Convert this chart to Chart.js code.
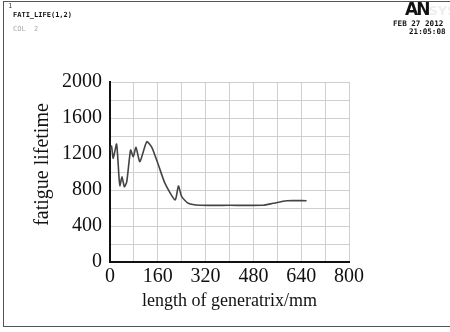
<!DOCTYPE html>
<html>
<head>
<meta charset="utf-8">
<script src="https://cdn.jsdelivr.net/npm/chart.js@4/dist/chart.umd.min.js"></script>
<style>
  body { margin: 0; background: #fff; }
  #wrap { position: relative; width: 450px; height: 332px; }
  #frame { position: absolute; left: 3px; top: 1px; width: 447px; height: 326px; border: 1.5px solid #555; border-right: none; box-sizing: border-box; }
  .hd { position: absolute; font-family: "DejaVu Sans Mono", monospace; font-size: 7px; line-height: 7px; white-space: pre; }
</style>
</head>
<body>
<div id="wrap">
  <canvas id="myChart" width="450" height="332"></canvas>
  <div id="frame"></div>
  <div class="hd" style="left:8px;top:3px;color:#444;">1</div>
  <div class="hd" style="left:13px;top:12px;font-weight:bold;color:#111;">FATI_LIFE(1,2)</div>
  <div class="hd" style="left:13px;top:26px;color:#aaa;">COL  2</div>
  <div class="hd" style="left:405px;top:1px;font-family:'DejaVu Sans';font-size:17px;line-height:17px;font-weight:bold;letter-spacing:-2px;color:#111;">AN<span style="color:#eeeeee;font-size:13px;letter-spacing:0">SYS</span></div>
  <div class="hd" style="left:393px;top:20px;font-weight:bold;font-size:7.6px;color:#111;">FEB 27 2012</div>
  <div class="hd" style="left:409px;top:28px;font-weight:bold;font-size:7.6px;color:#111;">21:05:08</div>
</div>
<script>
// length of generatrix (mm) vs fatigue lifetime
const lengths = [0, 5, 11, 22, 30, 33, 40, 48, 56, 69, 78, 87, 100, 123, 140, 162, 184, 218, 229, 240, 262, 301, 400, 513, 546, 591, 658];
const lifetimes = [1240, 1289, 1152, 1311, 948, 844, 948, 837, 890, 1244, 1170, 1274, 1115, 1337, 1274, 1078, 874, 689, 844, 726, 652, 630, 630, 630, 652, 681, 681];

const xMin = 0, xMax = 800, xStep = 80, xLabelEvery = 160;
const yMin = 0, yMax = 2000, yStep = 200, yLabelEvery = 400;

const serif = '"Liberation Serif", "Times New Roman", serif';

const points = lengths.map((x, i) => ({ x: x, y: lifetimes[i] }));

const config = {
    type: 'line',
    data: {
        datasets: [{
            data: points,
            borderColor: '#444',
            borderWidth: 1.6,
            pointRadius: 0,
            tension: 0.2,
            fill: false
        }]
    },
    options: {
        responsive: false,
        animation: false,
        layout: {
            padding: { left: 0, top: 82, right: 101, bottom: 0 }
        },
        plugins: {
            legend: { display: false },
            tooltip: { enabled: false }
        },
        scales: {
            x: {
                type: 'linear',
                min: xMin,
                max: xMax,
                afterFit: function(scale) { scale.height = 70; },
                border: { color: '#111', width: 2 },
                grid: { color: '#cfcfcf', lineWidth: 1, drawTicks: false },
                ticks: {
                    stepSize: xStep,
                    padding: 3,
                    maxRotation: 0,
                    autoSkip: false,
                    color: '#111',
                    font: { family: serif, size: 20 },
                    callback: function(v) { return v % xLabelEvery === 0 ? v : ''; }
                },
                title: {
                    display: true,
                    text: 'length of generatrix/mm',
                    color: '#111',
                    font: { family: serif, size: 18 },
                    padding: { top: 0, bottom: 20 }
                }
            },
            y: {
                min: yMin,
                max: yMax,
                afterFit: function(scale) { scale.width = 110; },
                border: { color: '#111', width: 2 },
                grid: { color: '#cfcfcf', lineWidth: 1, drawTicks: false },
                ticks: {
                    stepSize: yStep,
                    padding: 8,
                    autoSkip: false,
                    color: '#111',
                    font: { family: serif, size: 20 },
                    callback: function(v) { return v % yLabelEvery === 0 ? v : ''; }
                },
                title: {
                    display: true,
                    // leading spaces nudge the rotated title up a little
                    text: '   fatigue lifetime',
                    color: '#111',
                    font: { family: serif, size: 20 },
                    padding: { top: 31, bottom: 0 }
                }
            }
        }
    }
};

const myChart = new Chart(document.getElementById('myChart'), config);
</script>
</body>
</html>
